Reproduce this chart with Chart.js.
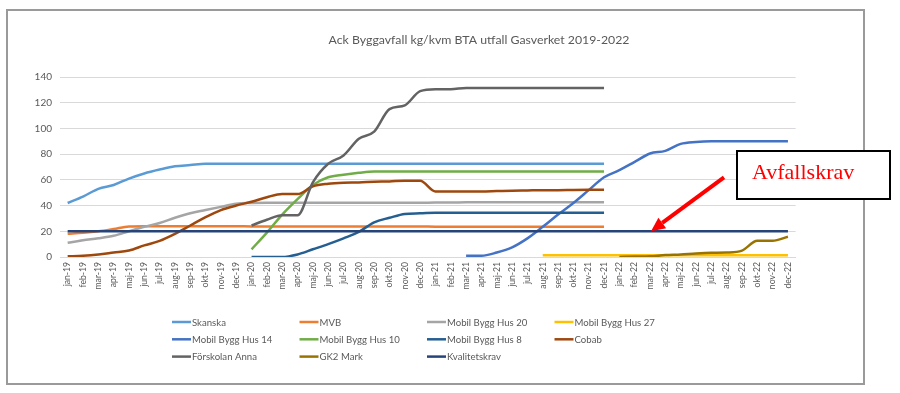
<!DOCTYPE html>
<html>
<head>
<meta charset="utf-8">
<script src="https://cdn.jsdelivr.net/npm/chart.js@4.4.1/dist/chart.umd.min.js"></script>
<style>
html,body{margin:0;padding:0;background:#fff;}
canvas{display:block;}
</style>
</head>
<body>
<canvas id="c" width="900" height="393"></canvas>
<script>
const categories = [
 'jan-19','feb-19','mar-19','apr-19','maj-19','jun-19','jul-19','aug-19','sep-19','okt-19','nov-19','dec-19',
 'jan-20','feb-20','mar-20','apr-20','maj-20','jun-20','jul-20','aug-20','sep-20','okt-20','nov-20','dec-20',
 'jan-21','feb-21','mar-21','apr-21','maj-21','jun-21','jul-21','aug-21','sep-21','okt-21','nov-21','dec-21',
 'jan-22','feb-22','mar-22','apr-22','maj-22','jun-22','jul-22','aug-22','sep-22','okt-22','nov-22','dec-22'
];
const yTicks = [0,20,40,60,80,100,120,140];
const N = null;

const skanska = [42,47,53,56,61,65,68,70.5,71.5,72.5,72.5,72.5,
 72.5,72.5,72.5,72.5,72.5,72.5,72.5,72.5,72.5,72.5,72.5,72.5,
 72.5,72.5,72.5,72.5,72.5,72.5,72.5,72.5,72.5,72.5,72.5,72.5,
 N,N,N,N,N,N,N,N,N,N,N,N];
const mvb = [18,18.8,20,21.8,23.8,24,24,24,24,24,24,24,
 23.8,23.8,23.8,23.8,23.8,23.8,23.8,23.8,23.8,23.8,23.8,23.8,
 23.6,23.6,23.6,23.6,23.6,23.6,23.6,23.6,23.6,23.6,23.6,23.6,
 N,N,N,N,N,N,N,N,N,N,N,N];
const hus20 = [11,13,14.5,16.5,20,23.5,26.5,30.5,34,36.5,39,41.5,
 42,42.2,42.2,42.2,42.2,42.2,42.2,42.2,42.2,42.2,42.2,42.2,
 42.3,42.3,42.5,42.5,42.5,42.5,42.5,42.5,42.5,42.5,42.5,42.5,
 N,N,N,N,N,N,N,N,N,N,N,N];
const hus27 = [N,N,N,N,N,N,N,N,N,N,N,N,
 N,N,N,N,N,N,N,N,N,N,N,N,
 N,N,N,N,N,N,N,1.3,1.3,1.3,1.3,1.3,
 1.3,1.3,1.3,1.3,1.3,1.3,1.3,1.3,1.3,1.3,1.3,1.3];
const hus14 = [N,N,N,N,N,N,N,N,N,N,N,N,
 N,N,N,N,N,N,N,N,N,N,N,N,
 N,N,1,1,3.5,7.5,14.5,23.5,33,42,52,62,
 67.5,74,80.5,82.5,88,89.5,90,90,90,90,90,90];
const hus10 = [N,N,N,N,N,N,N,N,N,N,N,N,
 6,19,33,45,56,62,64,65.5,66.5,66.5,66.5,66.5,
 66.5,66.5,66.5,66.5,66.5,66.5,66.5,66.5,66.5,66.5,66.5,66.5,
 N,N,N,N,N,N,N,N,N,N,N,N];
const hus8 = [N,N,N,N,N,N,N,N,N,N,N,N,
 0,0,0,2,6,10,14.5,19.5,27,30.5,33.5,34,
 34.5,34.5,34.5,34.5,34.5,34.5,34.5,34.5,34.5,34.5,34.5,34.5,
 N,N,N,N,N,N,N,N,N,N,N,N];
const cobab = [0.5,1,2,3.5,5,9,12.5,18,24.5,31,36.5,40,
 43,46.5,49,49,55,57,57.8,58,58.5,58.8,59.3,59.3,
 51,51,51,51,51.3,51.6,51.8,52,52,52.2,52.3,52.3,
 N,N,N,N,N,N,N,N,N,N,N,N];
const forskolan = [N,N,N,N,N,N,N,N,N,N,N,N,
 24.5,29,32.5,32.5,58,72.5,79,92,97.5,115,118,129,
 130.5,130.5,131.5,131.5,131.5,131.5,131.5,131.5,131.5,131.5,131.5,131.5,
 N,N,N,N,N,N,N,N,N,N,N,N];
const gk2 = [N,N,N,N,N,N,N,N,N,N,N,N,
 N,N,N,N,N,N,N,N,N,N,N,N,
 N,N,N,N,N,N,N,N,N,N,N,N,
 0,0.3,0.5,1.5,2,2.8,3.3,3.5,5,12.7,12.7,15.8];
const kvalitet = [20,20,20,20,20,20,20,20,20,20,20,20,
 20,20,20,20,20,20,20,20,20,20,20,20,
 20,20,20,20,20,20,20,20,20,20,20,20,
 20,20,20,20,20,20,20,20,20,20,20,20];

const seriesNames = ['Skanska','MVB','Mobil Bygg Hus 20','Mobil Bygg Hus 27','Mobil Bygg Hus 14','Mobil Bygg Hus 10','Mobil Bygg Hus 8','Cobab','Förskolan Anna','GK2 Mark','Kvalitetskrav'];
const seriesData = [skanska,mvb,hus20,hus27,hus14,hus10,hus8,cobab,forskolan,gk2,kvalitet];
const seriesColors = ['#5B9BD5','#ED7D31','#A5A5A5','#FFC000','#4472C4','#70AD47','#255E91','#9E480E','#636363','#997300','#264478'];

const titleText = 'Ack Byggavfall kg/kvm BTA utfall Gasverket 2019-2022';
const calloutText = 'Avfallskrav';
const calloutIndex = 38; // mar-22
const calloutValue = 20;

const datasets = seriesNames.map((n,i)=>({
  label:n, data:seriesData[i], borderColor:seriesColors[i], backgroundColor:seriesColors[i],
  borderWidth:2.5, pointRadius:0, pointHoverRadius:0, fill:false,
  cubicInterpolationMode:'monotone', spanGaps:false, order: seriesNames.length - i
}));

const decor = {
  id:'decor',
  beforeDraw(chart){
    const ctx = chart.ctx;
    ctx.save();
    ctx.fillStyle='#fff'; ctx.fillRect(0,0,chart.width,chart.height);
    ctx.strokeStyle='#9a9a9a'; ctx.lineWidth=2;
    ctx.strokeRect(7,10,857,374);
    ctx.restore();
  },
  afterDraw(chart){
    const ctx = chart.ctx;
    ctx.save();
    // title
    ctx.fillStyle='#595959';
    ctx.font='12.3px Lato';
    ctx.textAlign='center'; ctx.textBaseline='middle';
    ctx.fillText(titleText, 479, 40);
    // legend
    ctx.font='9.6px Lato';
    ctx.textAlign='left';
    seriesNames.forEach((n,i)=>{
      const col=i%4, row=Math.floor(i/4);
      const x=172+127.5*col, y=322+17.3*row;
      ctx.strokeStyle=seriesColors[i]; ctx.lineWidth=2.5;
      ctx.beginPath(); ctx.moveTo(x,y); ctx.lineTo(x+19,y); ctx.stroke();
      ctx.fillStyle='#595959';
      ctx.fillText(n, x+20, y+0.5);
    });
    // callout box
    ctx.fillStyle='#fff';
    ctx.fillRect(737,151,153,48);
    ctx.strokeStyle='#000'; ctx.lineWidth=2;
    ctx.strokeRect(737,151,153,48);
    ctx.fillStyle='#FF0000';
    ctx.font='22px "Liberation Serif"';
    ctx.textAlign='left'; ctx.textBaseline='alphabetic';
    ctx.fillText(calloutText, 752, 179);
    // arrow
    const xs=chart.scales.x, ys=chart.scales.y;
    const tx=xs.getPixelForValue(calloutIndex)+1, ty=ys.getPixelForValue(calloutValue);
    const sx=tx+73, sy=ty-54;
    const ang=Math.atan2(ty-sy, tx-sx);
    const hl=14, hw=6.5;
    const bx=tx-hl*Math.cos(ang), by=ty-hl*Math.sin(ang);
    ctx.strokeStyle='#FF0000'; ctx.lineWidth=4; ctx.lineCap='butt';
    ctx.beginPath(); ctx.moveTo(sx,sy); ctx.lineTo(bx,by); ctx.stroke();
    ctx.fillStyle='#FF0000';
    ctx.beginPath();
    ctx.moveTo(tx,ty);
    ctx.lineTo(bx+hw*Math.sin(ang), by-hw*Math.cos(ang));
    ctx.lineTo(bx-hw*Math.sin(ang), by+hw*Math.cos(ang));
    ctx.closePath(); ctx.fill();
    ctx.restore();
  }
};

new Chart(document.getElementById('c'), {
  type:'line',
  data:{labels:categories, datasets},
  options:{
    responsive:false, animation:false, devicePixelRatio:1,
    layout:{padding:{left:20,right:104.4,top:77,bottom:86}},
    plugins:{legend:{display:false}, title:{display:false}, tooltip:{enabled:false}},
    scales:{
      x:{
        type:'category', offset:true,
        grid:{display:false, drawTicks:false},
        border:{display:true, color:'#D9D9D9', width:1},
        ticks:{autoSkip:false, minRotation:90, maxRotation:90, padding:5,
          font:{family:'Lato', size:8.6}, color:'#595959'},
        afterFit(s){ s.height=50; }
      },
      y:{
        min:0, max:140,
        afterBuildTicks(s){ s.ticks = yTicks.map(v=>({value:v})); },
        grid:{color:'#D9D9D9', drawTicks:false, lineWidth:1},
        border:{display:false},
        ticks:{padding:8, font:{family:'Lato', size:10}, color:'#595959'},
        afterFit(s){ s.width=40; }
      }
    }
  },
  plugins:[decor]
});
</script>
</body>
</html>
